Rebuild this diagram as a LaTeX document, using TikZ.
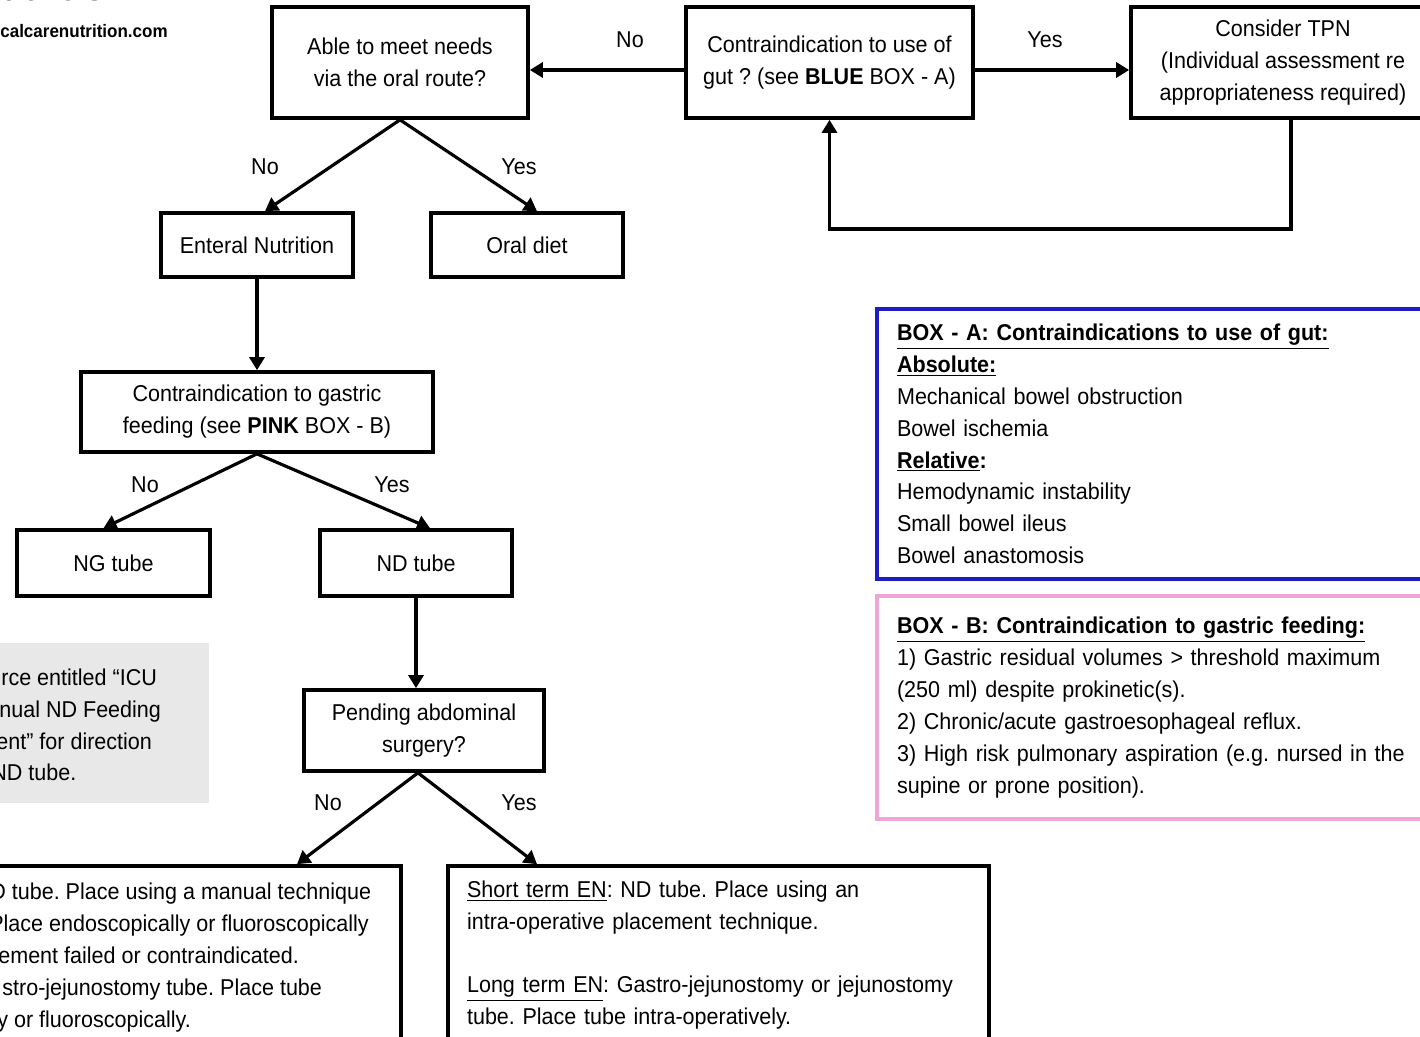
\documentclass[tikz,border=0pt]{standalone}
\usepackage{fontspec}
\setmainfont{Liberation Sans}[FakeStretch=0.94]
\usepackage{tikz}
\usetikzlibrary{arrows.meta,positioning}
\definecolor{boxBlue}{HTML}{1E1EC4}
\definecolor{boxPink}{HTML}{F0A6D4}
\definecolor{noteGrey}{HTML}{E8E8E8}
\newcommand{\flowfont}{\fontsize{13.04pt}{18.14pt}\selectfont}
\frenchspacing

\begin{document}
\begin{tikzpicture}[x=0.02cm,y=-0.02cm,font=\flowfont,
  every node/.style={inner sep=1pt},
  box/.style={draw,line width=2.1pt,align=center,inner sep=0pt},
  wh/.style 2 args={minimum width=#1*0.02cm,minimum height=#2*0.02cm},
  arr/.style={-{Triangle[width=0.3cm,length=0.26cm]},line width=1.8pt},
  lab/.style={inner sep=0pt}]
\def\u{0.02cm}
\useasboundingbox (0,0) rectangle (1420,1037);
\clip (0,0) rectangle (1420,1037);
% --- header (cut off) ---
\node[lab,anchor=base west,font=\fontsize{22.7pt}{24pt}\selectfont\bfseries] (title) at (0,1) {utrition};
\node[lab,anchor=base west,font=\fontsize{10.3pt}{12pt}\selectfont\bfseries] (site) at (0,38) {calcarenutrition.com};
% --- top row ---
\node[box,wh={256}{111}] (able) at (400,62.5) {Able to meet needs\\via the oral route?};
\node[box,wh={287}{111}] (gut) at (829.5,62.5) {Contraindication to use of\\gut ? (see \textbf{BLUE} BOX - A)};
\node[box,wh={304}{111}] (tpn) at (1283,62.5) {Consider TPN\\(Individual assessment re\\appropriateness required)};
\draw[arr] ([yshift=-7.5*\u]gut.west) -- ([yshift=-7.5*\u]able.east);
\draw[arr] ([yshift=-7.5*\u]gut.east) -- ([yshift=-7.5*\u]tpn.west);
\node[lab] (no1) at (630,40) {No};
\node[lab] (yes1) at (1045,40) {Yes};
\coordinate (back) at (1291,229);
\draw[arr] (tpn.south -| back) -- (back) -| (gut.south);
% --- enteral / oral ---
\node[box,wh={192}{64}] (en) at (257,245) {Enteral Nutrition};
\node[box,wh={192}{64}] (oral) at (527,245) {Oral diet};
\draw[arr] (able.south) -- ([xshift=8*\u]en.north);
\draw[arr] (able.south) -- ([xshift=10*\u]oral.north);
\node[lab] (no2) at (265,167) {No};
\node[lab] (yes2) at (519,167) {Yes};
% --- gastric feeding ---
\node[box,wh={352}{80}] (gas) at (257,412) {Contraindication to gastric\\feeding (see \textbf{PINK} BOX - B)};
\draw[arr] (en.south) -- (gas.north);
\node[box,wh={193}{66}] (ng) at (113.5,563) {NG tube};
\node[box,wh={192}{66}] (nd) at (416,563) {ND tube};
\draw[arr] (gas.south) -- ([xshift=-10*\u]ng.north);
\draw[arr] (gas.south) -- ([xshift=14*\u]nd.north);
\node[lab] (no3) at (145,485) {No};
\node[lab] (yes3) at (392,485) {Yes};
% --- surgery ---
\node[box,wh={240}{81}] (pend) at (424,730.5) {Pending abdominal\\surgery?};
\draw[arr] (nd.south) -- (nd.south |- pend.north);
% --- grey note (cut off) ---
\node[fill=noteGrey,inner sep=0pt,wh={359}{160}] (note) at (29.5,723) {};
\foreach \i/\x/\y/\t in {1/1/685/{rce entitled “ICU},2/-1/717/{nual ND Feeding},
    3/-4/749/{ent” for direction},4/-9/780/{ND tube.}}
  \node[lab,anchor=base west] (note\i) at (\x,\y) {\t};
% --- bottom boxes ---
\node[box,wh={661}{178}] (bl) at (70.5,955) {};
\foreach \i/\x/\y/\t in {1/-10/899/{D tube. Place using a manual technique},
    2/-11/931/{Place endoscopically or fluoroscopically},
    3/-2/963/{ement failed or contraindicated.},
    4/2/995/{stro-jejunostomy tube. Place tube},
    5/-3/1027/{y or fluoroscopically.}}
  \node[lab,anchor=base west] (bl\i) at (\x,\y) {\t};
\node[box,wh={541}{178},align=left,text width=10.06cm] (br) at (718.5,955)
  {\underline{Short term EN}: ND tube. Place using an\\intra-operative placement technique.\\[18.14pt]
   \underline{Long term EN}: Gastro-jejunostomy or jejunostomy\\tube. Place tube intra-operatively.};
\draw[arr] ([xshift=-6*\u]pend.south) -- ([xshift=226.5*\u]bl.north);
\draw[arr] ([xshift=-6*\u]pend.south) -- ([xshift=-181.5*\u]br.north);
\node[lab] (no4) at (328,803) {No};
\node[lab] (yes4) at (519,803) {Yes};
% --- box A and box B ---
\node[draw=boxBlue,line width=2pt,inner sep=0pt,wh={563}{270},align=left,text width=10.46cm] (boxA) at (1158.5,444)
  {\underline{\textbf{BOX - A: Contraindications to use of gut:}}\\
   \underline{\textbf{Absolute:}}\\
   Mechanical bowel obstruction\\
   Bowel ischemia\\
   \textbf{\underline{Relative}:}\\
   Hemodynamic instability\\
   Small bowel ileus\\
   Bowel anastomosis};
\node[draw=boxPink,line width=2pt,inner sep=0pt,wh={563}{223},align=left,text width=10.46cm] (boxB) at (1158.5,707.5)
  {\underline{\textbf{BOX - B: Contraindication to gastric feeding:}}\\
   1) Gastric residual volumes > threshold maximum\\
   (250 ml) despite prokinetic(s).\\
   2) Chronic/acute gastroesophageal reflux.\\
   3) High risk pulmonary aspiration (e.g. nursed in the\\
   supine or prone position).};
\end{tikzpicture}
\end{document}
